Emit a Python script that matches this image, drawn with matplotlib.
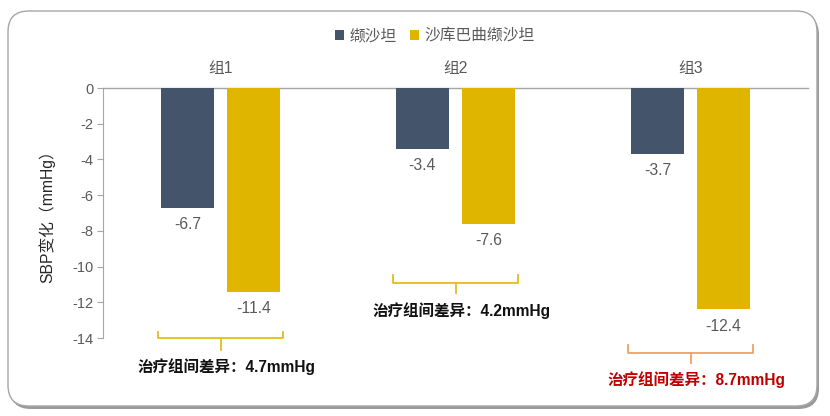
import matplotlib
matplotlib.use("Agg")
import matplotlib.pyplot as plt
from matplotlib.patches import FancyBboxPatch
import numpy as np

plt.rcParams['font.family'] = ['Liberation Sans', 'Noto Sans CJK SC', 'DejaVu Sans']

categories = ['组1', '组2', '组3']
series_names = ['缬沙坦', '沙库巴曲缬沙坦']
valsartan = [-6.7, -3.4, -3.7]
sacubitril = [-11.4, -7.6, -12.4]
yticks = [0, -2, -4, -6, -8, -10, -12, -14]
diff_texts = ['治疗组间差异：4.7mmHg', '治疗组间差异：4.2mmHg', '治疗组间差异：8.7mmHg']

dark = '#44546A'
gold = '#DFB500'
gray_text = '#595959'

fig = plt.figure(figsize=(8.3, 4.16), dpi=100)
fig.patch.set_facecolor('white')

# frame with shadow
W, H = 830, 416
def fx(p): return p / W
def fy(p): return 1 - p / H
shadow = FancyBboxPatch((fx(10), fy(409)), fx(819) - fx(10), fy(14) - fy(409),
                        boxstyle="round,pad=0,rounding_size=0.025", transform=fig.transFigure,
                        facecolor='#9a9a9a', edgecolor='none', zorder=0, mutation_aspect=W / H)
fig.patches.append(shadow)
frame = FancyBboxPatch((fx(8), fy(406)), fx(817) - fx(8), fy(11) - fy(406),
                       boxstyle="round,pad=0,rounding_size=0.025", transform=fig.transFigure,
                       facecolor='white', edgecolor='#a6a6a6', linewidth=1.0, zorder=1,
                       mutation_aspect=W / H)
fig.patches.append(frame)

ax = fig.add_axes([fx(103), fy(338), fx(808) - fx(103), fy(88) - fy(338)])
ax.set_facecolor('none')
ax.set_zorder(2)

x = np.arange(len(categories))
bw = 0.226
off = 0.141
b1 = ax.bar(x - off, valsartan, bw, color=dark, label=series_names[0], zorder=3)
b2 = ax.bar(x + off, sacubitril, bw, color=gold, label=series_names[1], zorder=3)

for xi, v in zip(x - off, valsartan):
    ax.annotate(f'{v}', (xi, v), xytext=(0, -12), textcoords='offset points',
                ha='center', va='center', fontsize=11.3, color=gray_text, annotation_clip=False)
for xi, v in zip(x + off, sacubitril):
    ax.annotate(f'{v}', (xi, v), xytext=(0, -12), textcoords='offset points',
                ha='center', va='center', fontsize=11.3, color=gray_text, annotation_clip=False)

ax.set_xlim(-0.5, 2.5)
ax.set_ylim(-14, 0)
ax.set_yticks(yticks)
ax.set_yticklabels([str(t) for t in yticks], fontsize=10.5, color=gray_text)
ax.tick_params(axis='y', length=4, color='#a6a6a6', width=0.8, pad=3)

ax.xaxis.tick_top()
ax.set_xticks(x)
ax.set_xticklabels(categories, fontsize=11.3, color=gray_text)
ax.tick_params(axis='x', length=0, pad=9)

for s in ['right', 'bottom']:
    ax.spines[s].set_visible(False)
ax.spines['left'].set_color('#a6a6a6')
ax.spines['left'].set_linewidth(0.8)
ax.spines['top'].set_color('#a6a6a6')
ax.spines['top'].set_linewidth(1.0)
ax.set_ylabel('SBP变化（mmHg）', fontsize=11.3, color='#262626', labelpad=12)

# brackets
bracket_colors = ['#E5BC1F', '#E5BC1F', '#F0A060']
text_colors = ['#111111', '#111111', '#C00000']
bracket_top = [-13.66, -10.47, -14.39]
bracket_mid = [-14.0, -10.92, -14.84]
bracket_tail = [-14.67, -11.48, -15.40]
text_y = [-15.62, -12.49, -16.35]
half = 0.268
for i in range(3):
    c = bracket_colors[i]
    xl, xr = x[i] - half, x[i] + half
    ax.plot([xl, xl, xr, xr], [bracket_top[i], bracket_mid[i], bracket_mid[i], bracket_top[i]],
            color=c, lw=1.3, clip_on=False, zorder=3)
    ax.plot([x[i], x[i]], [bracket_mid[i], bracket_tail[i]], color=c, lw=1.3, clip_on=False, zorder=3)
    ax.text(x[i] + 0.027, text_y[i], diff_texts[i], ha='center', va='center', fontsize=11.2,
            fontweight='bold', color=text_colors[i], clip_on=False, zorder=3)

fig.legend(handles=[b1, b2], labels=series_names, loc='center', bbox_to_anchor=(0.524, fy(36)),
           ncol=2, frameon=False, fontsize=11.3, handlelength=0.6, handleheight=0.6,
           handletextpad=0.35, columnspacing=0.8, labelcolor=gray_text)

fig.savefig('out.png', dpi=100, facecolor='white')
